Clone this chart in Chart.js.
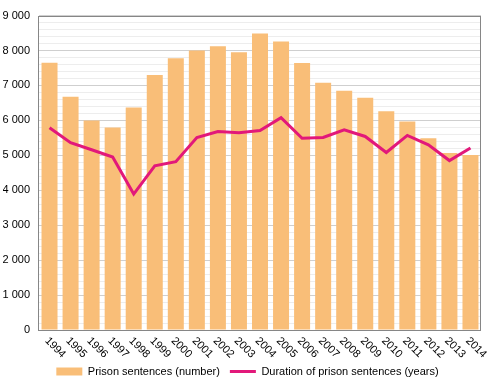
<!DOCTYPE html>
<html>
<head>
<meta charset="utf-8">
<script src="https://cdn.jsdelivr.net/npm/chart.js@4"></script>
<style>
  html, body { margin: 0; padding: 0; background: #fff; }
  #wrap { width: 492px; height: 387px; position: relative; }
</style>
</head>
<body>
<div id="wrap"><canvas id="chart"></canvas></div>
<script>
var years = ['1994', '1995', '1996', '1997', '1998', '1999', '2000', '2001', '2002', '2003', '2004',
  '2005', '2006', '2007', '2008', '2009', '2010', '2011', '2012', '2013', '2014'];

// number of prison sentences (left axis)
var sentences = [7650, 6680, 6000, 5800, 6370, 7300, 7780, 8000, 8120, 7950, 8490,
  8260, 7640, 7080, 6850, 6650, 6260, 5970, 5490, 5070, 5010];

// average duration in years (hidden axis, 0-9)
var duration = [5.79, 5.36, 5.16, 4.95, 3.89, 4.70, 4.82, 5.51, 5.68, 5.65, 5.71,
  6.08, 5.49, 5.51, 5.73, 5.54, 5.08, 5.57, 5.30, 4.85, 5.21];

var barColour = '#f9be78';
var lineColour = '#e2187a';
var font = {family: 'Liberation Sans, Arial, sans-serif', size: 11};

function fmt(v){
  return String(v).replace(/\B(?=(\d{3})+(?!\d))/g, ' ');
}

// frame round the plot + slanted year labels
var extras = {
  id: 'extras',
  afterDraw: function(chart){
    var ctx = chart.ctx;
    var a = chart.chartArea;
    var xs = chart.scales.x;
    ctx.save();
    ctx.strokeStyle = '#868686';
    ctx.lineWidth = 1;
    ctx.strokeRect(Math.round(a.left) - 0.5, Math.round(a.top) + 0.5,
      Math.round(a.right - a.left), Math.round(a.bottom - a.top));
    ctx.fillStyle = '#000';
    ctx.font = font.size + 'px ' + font.family;
    ctx.textAlign = 'left';
    ctx.textBaseline = 'middle';
    years.forEach(function(y, i){
      var x = xs.getPixelForTick(i);
      ctx.save();
      ctx.translate(x - 3, a.bottom + 9);
      ctx.rotate(Math.PI / 4);
      ctx.fillText(y, 0, 0);
      ctx.restore();
    });
    ctx.restore();
  }
};

new Chart(document.getElementById('chart'), {
  data: {
    labels: years,
    datasets: [
      {
        type: 'line',
        label: 'Duration of prison sentences (years)',
        data: duration,
        yAxisID: 'y1',
        borderColor: lineColour,
        backgroundColor: lineColour,
        borderWidth: 3,
        pointRadius: 0,
        tension: 0,
        order: 0
      },
      {
        type: 'bar',
        label: 'Prison sentences (number)',
        data: sentences,
        yAxisID: 'y',
        backgroundColor: barColour,
        borderWidth: 0,
        barPercentage: 0.76,
        categoryPercentage: 1,
        order: 1
      }
    ]
  },
  options: {
    responsive: true,
    maintainAspectRatio: false,
    animation: false,
    layout: {padding: {top: 6, right: 0, left: 3, bottom: 0}},
    plugins: {
      tooltip: {enabled: false},
      legend: {
        position: 'bottom',
        reverse: true,
        labels: {
          font: font,
          color: '#000',
          usePointStyle: true,
          pointStyleWidth: 26,
          boxHeight: 8,
          padding: 10,
          generateLabels: function(chart){
            var items = Chart.defaults.plugins.legend.labels.generateLabels(chart);
            items.forEach(function(it){
              if (it.datasetIndex === 0){
                it.pointStyle = 'line';
                it.lineWidth = 3;
                it.strokeStyle = lineColour;
              } else {
                it.pointStyle = 'rect';
                it.lineWidth = 0;
                it.fillStyle = barColour;
                it.strokeStyle = barColour;
              }
            });
            return items;
          }
        }
      }
    },
    scales: {
      x: {
        grid: {display: false},
        border: {display: false},
        ticks: {display: false},
        afterFit: function(scale){ scale.height = 26; }
      },
      y: {
        min: 0,
        max: 9000,
        border: {display: false},
        grid: {
          drawTicks: false,
          color: function(c){
            return c.tick && c.tick.value % 1000 === 0 ? '#cfcfcf' : '#ededed';
          }
        },
        ticks: {
          stepSize: 200,
          autoSkip: false,
          padding: 9,
          color: '#000',
          font: font,
          callback: function(v){ return v % 1000 === 0 ? fmt(v) : ''; }
        },
        afterFit: function(scale){ scale.width = 36; }
      },
      y1: {
        position: 'right',
        min: 0,
        max: 9,
        grid: {display: false},
        border: {display: false},
        ticks: {display: false},
        afterFit: function(scale){ scale.width = 11; }
      }
    }
  },
  plugins: [extras]
});
</script>
</body>
</html>
